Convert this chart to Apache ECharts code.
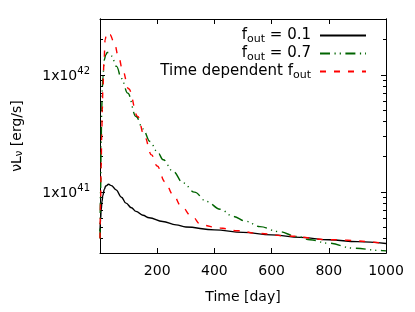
<!DOCTYPE html>
<html>
<head>
<meta charset="utf-8">
<script src="https://cdn.jsdelivr.net/npm/echarts@6/dist/echarts.min.js"></script>
<style>html,body{margin:0;padding:0;background:#fff}#c{width:415px;height:312px}</style>
</head>
<body>
<div id="c"></div>
<script>
// ---- data ----
const seriesNames = ['f_out = 0.1', 'f_out = 0.7', 'Time dependent f_out'];

const daysA = [0, 2, 4, 7, 10, 15, 20, 30, 40, 56, 75, 91, 110, 126, 150, 172, 219, 266, 300, 400, 500, 600, 700, 800, 900, 1000];
const lumA  = [4.6e40, 5.8e40, 7.0e40, 8.3e40, 9.3e40, 1.05e41, 1.12e41, 1.16e41, 1.13e41, 1.04e41, 9.0e40, 8.0e40, 7.3e40, 6.8e40, 6.3e40, 6.0e40, 5.57e40, 5.22e40, 5.0e40, 4.73e40, 4.5e40, 4.29e40, 4.08e40, 3.89e40, 3.75e40, 3.62e40];

const daysB = [0, 2, 4, 6, 8, 10, 15, 20, 25, 30, 40, 58, 75, 97, 126, 150, 175, 200, 221, 255, 291, 330, 373, 420, 466, 510, 559, 623, 690, 734, 798, 886, 985, 1000];
const lumB  = [4.0e40, 1.0e41, 2.5e41, 5.0e41, 7.5e41, 9.5e41, 1.34e42, 1.48e42, 1.55e42, 1.55e42, 1.45e42, 1.18e42, 9.3e41, 6.97e41, 4.4e41, 3.45e41, 2.69e41, 2.21e41, 1.88e41, 1.5e41, 1.19e41, 9.95e40, 8.26e40, 7.1e40, 6.15e40, 5.6e40, 5.04e40, 4.58e40, 4.15e40, 3.89e40, 3.64e40, 3.3e40, 3.15e40, 3.13e40];

const daysC = [0, 2, 4, 6, 8, 10, 14, 18, 23, 28, 35, 50, 65, 79, 100, 132, 155, 180, 200, 227, 255, 285, 320, 355, 420, 480, 550, 650, 800, 1000];
const lumC  = [4.0e40, 8.0e40, 1.6e41, 3.0e41, 5.0e41, 7.5e41, 1.3e42, 2.0e42, 2.25e42, 2.3e42, 2.2e42, 1.87e42, 1.42e42, 1.1e42, 7.6e41, 4.4e41, 3.0e41, 2.07e41, 1.66e41, 1.22e41, 9.5e40, 7.5e40, 6.2e40, 5.2e40, 4.9e40, 4.65e40, 4.42e40, 4.2e40, 3.9e40, 3.62e40];

const xTickValues  = [200, 400, 600, 800];
const xLabelValues = [200, 400, 600, 800, 1000];
const yMajorValues = [1e41, 1e42];
const yMinorValues = [4e40, 5e40, 6e40, 7e40, 8e40, 9e40, 2e41, 3e41, 4e41, 5e41, 6e41, 7e41, 8e41, 9e41, 2e42];

// ---- chart ----
const FONT = 'DejaVu Sans';
const pairs = (xs, ys) => xs.map((x, i) => [x, ys[i]]);
const legendFmt = name => name.replace(/f_out/g, 'f{sub|out}');
const legendRich = { sub: { fontSize: 11, fontFamily: FONT, color: '#000', padding: [7, 0, 0, 0] } };

function yAxisDef(position, major) {
  return {
    type: 'log', logBase: 10, min: 3e40, max: 3e42, position: position,
    axisLine: { show: true, lineStyle: { color: '#000', width: 1 } },
    axisTick: { show: true, inside: true, length: major ? 5 : 3, customValues: major ? yMajorValues : yMinorValues, lineStyle: { color: '#000' } },
    axisLabel: major && position === 'left' ? {
      show: true, customValues: yMajorValues, margin: 10,
      formatter: v => '{a|1x10}{s|' + Math.round(Math.log10(v)) + '}',
      rich: {
        a: { fontSize: 14, fontFamily: FONT, color: '#000', padding: [4, 0, 0, 0] },
        s: { fontSize: 10, fontFamily: FONT, color: '#000', padding: [0, 0, 6, 0] }
      }
    } : { show: false },
    splitLine: { show: false },
    name: major && position === 'left' ? 'νL{sub|ν} [erg/s]' : '',
    nameLocation: 'middle', nameGap: 76, nameRotate: 90,
    nameTextStyle: { fontSize: 14, fontFamily: FONT, color: '#000',
      rich: { sub: { fontSize: 10, fontFamily: FONT, color: '#000', padding: [0, 0, 0, 0], verticalAlign: 'bottom' } } }
  };
}
function xAxisDef(position) {
  return {
    type: 'value', min: 0, max: 1000, position: position,
    axisLine: { show: true, lineStyle: { color: '#000', width: 1 } },
    axisTick: { show: true, inside: true, length: 5, customValues: xTickValues, lineStyle: { color: '#000' } },
    axisLabel: position === 'bottom' ? { show: true, customValues: xLabelValues, formatter: v => String(v), fontSize: 14, fontFamily: FONT, color: '#000', margin: 11 } : { show: false },
    splitLine: { show: false },
    name: position === 'bottom' ? 'Time [day]' : '',
    nameLocation: 'middle', nameGap: 37,
    nameTextStyle: { fontSize: 14, fontFamily: FONT, color: '#000' }
  };
}
function legendDef(name, top) {
  return {
    data: [name], right: 48, top: top, orient: 'vertical', align: 'right',
    itemWidth: 46, itemHeight: 14, itemGap: 0, padding: 0,
    itemStyle: { opacity: 0, borderWidth: 0 },
    formatter: legendFmt,
    textStyle: { fontSize: 15, fontFamily: FONT, color: '#000', padding: [0, 4, 0, 0], rich: legendRich }
  };
}

const chart = echarts.init(document.getElementById('c'), null, { renderer: 'canvas' });
chart.setOption({
  animation: false,
  backgroundColor: '#fff',
  grid: { left: 100, right: 29, top: 19, bottom: 59 },
  legend: [legendDef(seriesNames[0], 28), legendDef(seriesNames[1], 46), legendDef(seriesNames[2], 64)],
  xAxis: [xAxisDef('bottom'), xAxisDef('top')],
  yAxis: [yAxisDef('left', true), yAxisDef('left', false), yAxisDef('right', true), yAxisDef('right', false)],
  series: [
    { name: seriesNames[0], type: 'line', data: pairs(daysA, lumA), showSymbol: false, symbol: 'none', smooth: 0.4, smoothMonotone: 'x', clip: true,
      lineStyle: { color: '#000', width: 1.4 }, itemStyle: { color: '#000' } },
    { name: seriesNames[1], type: 'line', data: pairs(daysB, lumB), showSymbol: false, symbol: 'none', smooth: 0.4, smoothMonotone: 'x', clip: true,
      lineStyle: { color: '#006400', width: 1.4, type: [10, 4.5, 1.2, 4, 1.2, 4.5] }, itemStyle: { color: '#006400' } },
    { name: seriesNames[2], type: 'line', data: pairs(daysC, lumC), showSymbol: false, symbol: 'none', smooth: 0.4, smoothMonotone: 'x', clip: true,
      lineStyle: { color: '#ff0000', width: 1.4, type: [6, 8] }, itemStyle: { color: '#ff0000' } }
  ]
});
</script>
</body>
</html>
